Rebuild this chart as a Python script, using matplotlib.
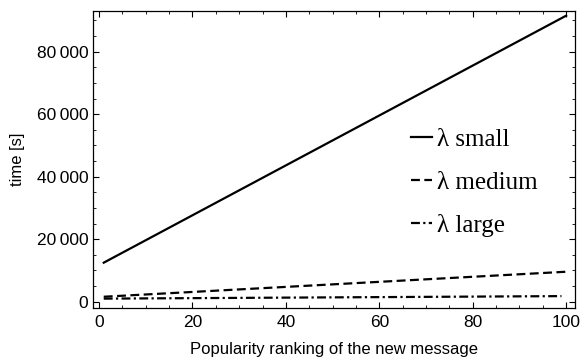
import matplotlib
matplotlib.use("Agg")
import matplotlib.pyplot as plt
from matplotlib.ticker import MultipleLocator, FuncFormatter

rank = [1, 100]
small = [12500, 91500]
medium = [1600, 9600]
large_x = [1, 99]
large = [1000, 1800]

labels = ["λ small", "λ medium", "λ large"]
xticks = [0, 20, 40, 60, 80, 100]
yticks = [0, 20000, 40000, 60000, 80000]

plt.rcParams['font.family'] = ['Liberation Sans', 'DejaVu Sans']

W, H = 582, 360
fig = plt.figure(figsize=(W / 100, H / 100), dpi=100)
ax = fig.add_axes([93 / W, 1 - 308 / H, (575 - 93) / W, (308 - 11) / H])

ax.plot(rank, small, color='black', lw=1.6, ls='-', label=labels[0])
ax.plot(rank, medium, color='black', lw=1.6, ls=(0, (4, 2)), label=labels[1])
ax.plot(large_x, large, color='black', lw=1.6, ls=(0, (4, 1.5, 1, 1.5)), label=labels[2])

ax.set_xlim(-1.3, 101.9)
ax.set_ylim(-2000, 93000)
ax.set_xticks(xticks)
ax.set_yticks(yticks)
ax.xaxis.set_minor_locator(MultipleLocator(5))
ax.yaxis.set_minor_locator(MultipleLocator(5000))

def fmt(v, pos):
    v = int(round(v))
    if v >= 1000:
        return f"{v:,}".replace(",", "\u2009")
    return str(v)
ax.yaxis.set_major_formatter(FuncFormatter(fmt))

ax.tick_params(which='both', direction='in', top=True, right=True, colors='black', labelsize=12.5)
ax.tick_params(axis='x', which='major', pad=5)
ax.tick_params(which='major', length=4, width=0.8)
ax.tick_params(which='minor', length=2.5, width=0.6)
for s in ax.spines.values():
    s.set_linewidth(0.9)

ax.set_xlabel("Popularity ranking of the new message", fontsize=12, labelpad=9)
ax.set_ylabel("time [s]", fontsize=12, labelpad=8)

leg = ax.legend(loc='upper left', bbox_to_anchor=(411 / W, 1 - 128 / H),
                bbox_transform=fig.transFigure, frameon=False,
                prop={'family': ['Liberation Serif', 'DejaVu Serif'], 'size': 18},
                handlelength=0.85, handletextpad=0.2, labelspacing=0.82,
                borderpad=0, borderaxespad=0)

fig.savefig("out.png", dpi=100)
